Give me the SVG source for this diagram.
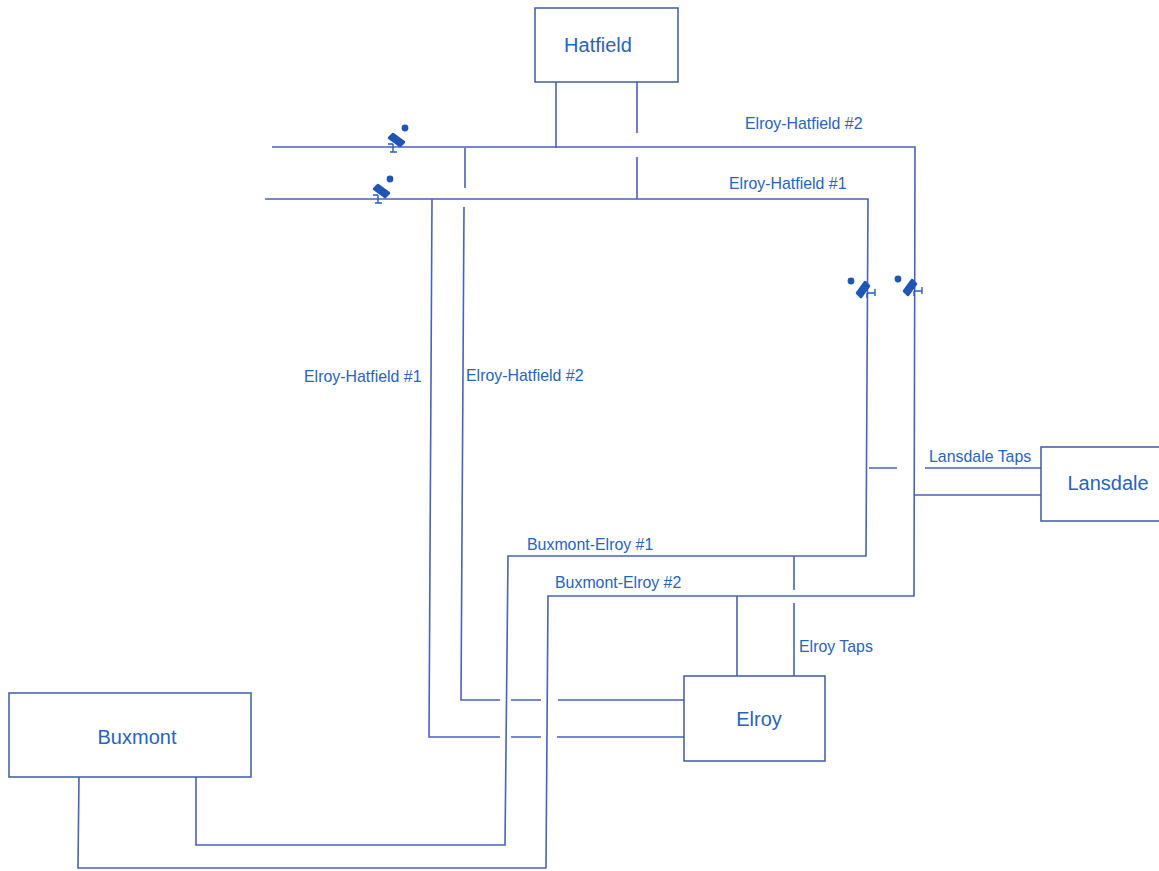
<svg xmlns="http://www.w3.org/2000/svg" width="1159" height="871" viewBox="0 0 1159 871">
<style>
.l{fill:none;stroke:#4a62b8;stroke-width:1.6}
.n{fill:#fff;stroke:#3f5aa8;stroke-width:1.5}
text{font-family:"Liberation Sans",Arial,sans-serif;fill:#2a63b8;font-size:15.9px}
.b{font-size:20px;text-anchor:middle}
.i{fill:#1f55b5;stroke:none}
.t{fill:#1f55b5;stroke:#1f55b5;stroke-width:2.5;stroke-linejoin:round}
.s{fill:none;stroke:#2a5db5;stroke-width:1.4}
</style>
<defs>
<g id="cam">
<circle cx="11" cy="-10" r="3.4" class="i"/>
<path d="M-5,0 L-1,-4 L10,4 L6,8 Z" class="t"/>
<path d="M-1,6 V14 M-4,14 H3 M-6,6 H-1" class="s"/>
</g>
</defs>
<rect width="1159" height="871" fill="#fff"/>
<g id="connectors">
<path class="l" d="M272,147 H915 L914,596 H548 L546,868 H78 L79,775"/>
<path class="l" d="M265,199 H868 L866,556 H508 L505,845 H196 V775"/>
<path class="l" d="M556,82 V148"/>
<path class="l" d="M637,82 V133 M637,157 V199"/>
<path class="l" d="M465,148 V188 M464,207 L461,700 H500 M511,700 H541 M558,700 H684"/>
<path class="l" d="M432,199 L429,737 H500 M511,737 H541 M557,737 H684"/>
<path class="l" d="M915,495 H1041 M925,468 H1041 M869,468 H897"/>
<path class="l" d="M737,596 V676 M794,556 V590 M794,603 V676"/>
</g>
<g id="hatfield"><rect class="n" x="535" y="8" width="143" height="74"/><text class="b" x="598" y="52">Hatfield</text></g>
<g id="lansdale"><rect class="n" x="1041" y="447" width="125" height="74"/><text class="b" x="1108" y="490">Lansdale</text></g>
<g id="elroy"><rect class="n" x="684" y="676" width="141" height="85"/><text class="b" x="759" y="726">Elroy</text></g>
<g id="buxmont"><rect class="n" x="9" y="693" width="242" height="84"/><text class="b" x="137" y="744">Buxmont</text></g>
<g id="cameras">
<use href="#cam" x="394" y="138"/>
<use href="#cam" x="379" y="189"/>
<use href="#cam" transform="translate(861,292) rotate(-90)"/>
<use href="#cam" transform="translate(908,290) rotate(-90)"/>
</g>
<g id="labels">
<text x="745" y="129">Elroy-Hatfield #2</text>
<text x="729" y="189">Elroy-Hatfield #1</text>
<text x="304" y="382">Elroy-Hatfield #1</text>
<text x="466" y="381">Elroy-Hatfield #2</text>
<text x="929" y="462">Lansdale Taps</text>
<text x="527" y="550">Buxmont-Elroy #1</text>
<text x="555" y="588">Buxmont-Elroy #2</text>
<text x="799" y="652">Elroy Taps</text>
</g>
</svg>
